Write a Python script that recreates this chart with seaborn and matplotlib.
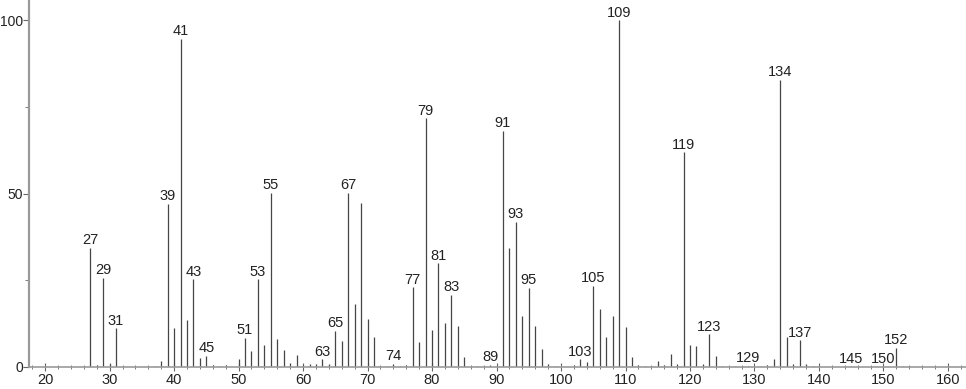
import matplotlib
matplotlib.use("Agg")
import matplotlib.pyplot as plt
from matplotlib.ticker import MultipleLocator
import seaborn as sns
import pandas as pd

# m/z values and relative intensities
mz = [27, 28, 29, 30, 31, 37, 38, 39, 40, 41, 42, 43, 44, 45, 46, 47, 48,
      50, 51, 52, 53, 54, 55, 56, 57, 58, 59, 60, 61, 62, 63, 64, 65, 66,
      67, 68, 69, 70, 71, 72, 73, 74, 75, 76, 77, 78, 79, 80, 81, 82, 83,
      84, 85, 86, 87, 89, 90, 91, 92, 93, 94, 95, 96, 97, 98, 99, 102, 103,
      104, 105, 106, 107, 108, 109, 110, 111, 112, 113, 115, 116, 117, 118,
      119, 120, 121, 122, 123, 124, 125, 127, 128, 129, 131, 132, 133, 134,
      135, 136, 137, 138, 139, 145, 150, 152, 153, 154]
intensity = [34.4, 0.6, 25.7, 0.9, 11.1, 0.3, 1.7, 47.0, 11.1, 94.7, 13.5, 25.3,
             2.7, 3.3, 0.6, 0.4, 0.5,
             2.3, 8.4, 4.7, 25.3, 6.3, 50.3, 8.1, 4.9, 1.2, 3.4, 0.7, 0.8, 0.9,
             2.3, 0.8, 10.4, 7.5,
             50.3, 18.2, 47.4, 13.8, 8.6, 0.4, 0.3, 0.9, 0.4, 0.5, 23.0, 7.3,
             71.7, 10.7, 29.9, 12.8, 20.8,
             11.9, 2.9, 0.4, 0.3, 0.6, 0.4, 68.1, 34.2, 41.9, 14.7, 22.8, 11.9,
             5.2, 1.0, 0.3, 0.6, 2.3,
             1.3, 23.4, 16.7, 8.6, 14.7, 100.0, 11.6, 2.9, 0.5, 0.3, 1.7, 0.7,
             3.7, 0.9,
             61.9, 6.3, 6.1, 1.0, 9.4, 3.3, 0.3, 0.3, 0.3, 0.4, 0.3, 0.5, 2.3,
             82.8,
             8.7, 0.9, 7.7, 0.9, 0.3, 0.2, 0.2, 5.6, 0.3, 0.3]
labeled_peaks = [27, 29, 31, 39, 41, 43, 45, 51, 53, 55, 63, 65, 67, 74, 77,
                 79, 81, 83, 89, 91, 93, 95, 103, 105, 109, 119, 123, 129,
                 134, 137, 145, 150, 152]
y_tick_labels = [0, 50, 100]
x_tick_labels = list(range(20, 170, 10))

df = pd.DataFrame({"mz": mz, "intensity": intensity})

sns.set_style("white")
plt.rcParams["font.family"] = ["Liberation Sans Narrow", "Liberation Sans", "DejaVu Sans"]

fig = plt.figure(figsize=(9.66, 3.89), dpi=100)
ax = fig.add_axes([29 / 966, 22 / 389, 937 / 966, 367 / 389])

ax.vlines(df["mz"], 0, df["intensity"], color="#454545", linewidth=0.9)

lookup = dict(zip(mz, intensity))
for m in labeled_peaks:
    ax.annotate(str(m), xy=(m, lookup[m]), xytext=(0, 2.5),
                textcoords="offset points", ha="center", va="baseline",
                fontsize=10.5, color="#222222")

ax.set_xlim(17.5, 162.8)
ax.set_ylim(0, 105.8)

ax.set_xticks(x_tick_labels)
ax.set_xticklabels([str(v) for v in x_tick_labels])
ax.xaxis.set_minor_locator(MultipleLocator(2))
ax.set_yticks(y_tick_labels)
ax.set_yticklabels([str(v) for v in y_tick_labels])
ax.yaxis.set_minor_locator(MultipleLocator(25))

sns.despine(ax=ax, top=True, right=True)
for side in ["left", "bottom"]:
    ax.spines[side].set_color("#9a9a9a")
ax.spines["left"].set_linewidth(1.6)
ax.spines["bottom"].set_linewidth(1.2)

ax.tick_params(axis="x", which="major", direction="inout", length=6, width=0.8,
               color="#666666", labelsize=10.5, labelcolor="#222222", pad=1,
               bottom=True)
ax.tick_params(axis="x", which="minor", direction="inout", length=3, width=0.6,
               color="#666666", bottom=True)
ax.tick_params(axis="y", which="major", direction="out", length=4.2, width=0.8,
               color="#666666", labelsize=10, labelcolor="#222222", pad=0.3,
               left=True)
ax.tick_params(axis="y", which="minor", direction="out", length=3, width=0.6,
               color="#666666", left=True)
ax.grid(False)

fig.savefig("out.png", dpi=100)
